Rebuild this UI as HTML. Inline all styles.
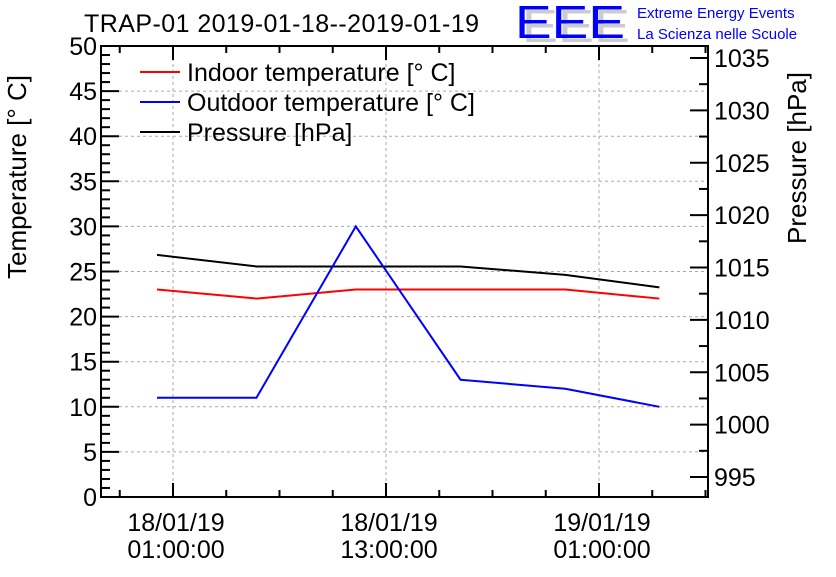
<!DOCTYPE html>
<html><head><meta charset="utf-8"><style>
body{margin:0;background:#fff;}
svg text{font-family:"Liberation Sans",sans-serif;}
</style></head><body>
<svg id="chart" width="836" height="572" xmlns="http://www.w3.org/2000/svg">
<text x="84" y="32" font-size="25" textLength="395">TRAP-01 2019-01-18--2019-01-19</text>
<g>
<text x="522" y="42" font-size="46" fill="#ccc" textLength="108" lengthAdjust="spacingAndGlyphs">EEE</text>
<text x="515" y="38" font-size="46" fill="#0000ff" textLength="110" lengthAdjust="spacingAndGlyphs">EEE</text>
<text x="637" y="18" font-size="15" fill="#0000ff">Extreme Energy Events</text>
<text x="637" y="39" font-size="15" fill="#0000ff">La Scienza nelle Scuole</text>
</g>
<text transform="translate(26,177) rotate(-90)" text-anchor="middle" font-size="26">Temperature [° C]</text>
<text transform="translate(806,158) rotate(-90)" text-anchor="middle" font-size="26">Pressure [hPa]</text>
<g id="grid"></g><g id="axes"></g><g id="series"></g>
<g>
<line x1="140" y1="72" x2="180" y2="72" stroke="#f00" stroke-width="2"/><text x="187" y="81" font-size="25">Indoor temperature [° C]</text>
<line x1="140" y1="102" x2="180" y2="102" stroke="#00f" stroke-width="2"/><text x="187" y="111" font-size="25">Outdoor temperature [° C]</text>
<line x1="140" y1="132" x2="180" y2="132" stroke="#000" stroke-width="2"/><text x="187" y="141" font-size="25">Pressure [hPa]</text>
</g>
</svg>
<script>
const hours=[-0.9,4.7,10.3,16.2,22.1,27.4];
const indoor=[23,22,23,23,23,22];
const outdoor=[11,11,30,13,12,10];
const pressure=[1016.2,1015.1,1015.1,1015.1,1014.3,1013.1];
const tempTicks=[0,5,10,15,20,25,30,35,40,45,50];
const presTicks=[995,1000,1005,1010,1015,1020,1025,1030,1035];
const xMajor=[0,12,24];
const xLabels=[["18/01/19","01:00:00"],["18/01/19","13:00:00"],["19/01/19","01:00:00"]];

const L=101,R=708,T=46,B=497;
const NS="http://www.w3.org/2000/svg";
const xs=h=>173+(h)*(213/12);
const yT=v=>B-(v/50)*(B-T);
const yP=p=>477-(p-995)*10.475;
function mk(tag,at,parent){const e=document.createElementNS(NS,tag);for(const k in at)e.setAttribute(k,at[k]);document.getElementById(parent).appendChild(e);return e;}
tempTicks.forEach(v=>{if(v>0&&v<50){const g=mk('line',{x1:L,x2:R,y1:yT(v),y2:yT(v),stroke:'#aaa','stroke-dasharray':'3,3'},'grid');

}});
xMajor.forEach(h=>{const g=mk('line',{x1:xs(h),x2:xs(h),y1:T,y2:B,stroke:'#aaa','stroke-dasharray':'3,3'},'grid');

});
const f=mk('rect',{x:L,y:T,width:R-L,height:B-T,fill:'none',stroke:'#000','stroke-width':2},'axes');


for(let v=0;v<=50;v++){const len=v%5==0?18:9;mk('line',{x1:L,x2:L+len,y1:yT(v),y2:yT(v),stroke:'#000','stroke-width':2},'axes');}
tempTicks.forEach(v=>{const t=mk('text',{x:L-4,y:yT(v)+9,'text-anchor':'end','font-size':25},'axes');t.textContent=v;

});
for(let p=995;p<=1035;p+=2.5){const len=(p%5==0)?18:9;mk('line',{x1:R-len,x2:R,y1:yP(p),y2:yP(p),stroke:'#000','stroke-width':2},'axes');}
presTicks.forEach(p=>{const t=mk('text',{x:R+6,y:yP(p)+9,'font-size':25},'axes');t.textContent=p;

});
for(let h=-3;h<=30;h+=3){const len=h%12==0?14:7;[[B,B-len],[T,T+len]].forEach(([a,b])=>mk('line',{x1:xs(h),x2:xs(h),y1:a,y2:b,stroke:'#000','stroke-width':2},'axes'));}
xMajor.forEach((h,i)=>{xLabels[i].forEach((s,j)=>{const t=mk('text',{x:xs(h)+3,y:531+j*27,'text-anchor':'middle','font-size':25},'axes');t.textContent=s;

});});
function line(vals,yf,color,name){const pts=hours.map((h,i)=>xs(h)+','+yf(vals[i])).join(' ');const p=mk('polyline',{points:pts,fill:'none',stroke:color,'stroke-width':2},'series');

}
line(pressure,yP,'#000','pressure-line');
line(indoor,yT,'#f00','indoor-temperature-line');
line(outdoor,yT,'#00f','outdoor-temperature-line');
</script>
</body></html>
